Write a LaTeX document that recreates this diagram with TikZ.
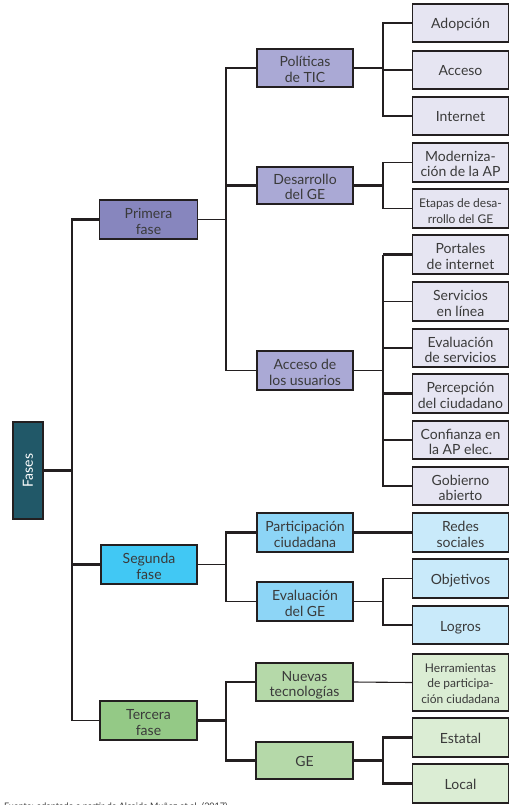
\documentclass[tikz,border=0pt]{standalone}
\usepackage{fontspec}
\setmainfont{Lato}
\definecolor{linec}{HTML}{231F20}
\definecolor{txtc}{HTML}{3A3A3A}
\definecolor{fasesc}{HTML}{215868}
\definecolor{primc}{HTML}{8786BE}
\definecolor{midpur}{HTML}{AAA9D5}
\definecolor{leafpur}{HTML}{E6E5F2}
\definecolor{segc}{HTML}{41C8F4}
\definecolor{midcyan}{HTML}{8DD5F6}
\definecolor{leafcyan}{HTML}{C9EAFA}
\definecolor{tercc}{HTML}{94C986}
\definecolor{midgreen}{HTML}{B5D9A9}
\definecolor{leafgreen}{HTML}{DBEDD4}
\begin{document}
\begin{tikzpicture}[x=1pt,y=-1pt,
  box/.style={draw=linec, line width=1.1pt, minimum width=96pt, minimum height=38pt,
    inner sep=1pt, align=center, text=txtc, font=\fontsize{14}{15.5}\selectfont,
    text height=29pt, text depth=0pt},
  oneline/.style={text height=12pt, text depth=0pt},
  threeline/.style={text height=41pt, text depth=0pt},
  small/.style={font=\fontsize{12}{15.5}\selectfont},
  thk/.style={draw=linec, line width=2.2pt},
  thn/.style={draw=linec, line width=1.1pt}]
\useasboundingbox (0,0) rectangle (515,805);
\coordinate (t0) at (72,0);
\coordinate (j1) at (226,0);
\coordinate (j2) at (383,0);
% root
\node[box, fill=fasesc, text=white, minimum width=30pt, minimum height=97pt, text height=, text depth=] (fases) at (28,470.5) {\rotatebox{90}{Fases}};
% phases
\node[box, fill=primc, minimum width=98pt, minimum height=39pt] (prim) at (148.5,219.5) {Primera\\fase};
\node[box, fill=segc, minimum height=39pt] (seg) at (149,564.5) {Segunda\\fase};
\node[box, fill=tercc, minimum width=97pt, minimum height=39pt] (terc) at (148.5,720.5) {Tercera\\fase};
% middle
\node[box, fill=midpur] (pol) at (305,68) {Políticas\\de TIC};
\node[box, fill=midpur, minimum height=37pt] (des) at (305,185.5) {Desarrollo\\del GE};
\node[box, fill=midpur, minimum height=39pt] (acc) at (305,370.5) {Acceso de\\los usuarios};
\node[box, fill=midcyan, minimum height=39pt] (par) at (305,532.5) {Participación\\ciudadana};
\node[box, fill=midcyan, minimum height=39pt] (eva) at (305,601.5) {Evaluación\\del GE};
\node[box, fill=midgreen, minimum width=97pt] (nue) at (304.5,682) {Nuevas\\tecnologías};
\node[box, fill=midgreen, minimum width=97pt, minimum height=37pt, oneline] (ge) at (304.5,760.5) {GE};
% leaves
\begin{scope}[every node/.append style={minimum width=97pt}]
\node[box, fill=leafpur, oneline] (ado) at (460.5,23) {Adopción};
\node[box, fill=leafpur, oneline] (acs) at (460.5,70) {Acceso};
\node[box, fill=leafpur, oneline] (int) at (460.5,116) {Internet};
\node[box, fill=leafpur, minimum height=39pt] (mod) at (460.5,162.5) {Moderniza-\\ción de la AP};
\node[box, fill=leafpur, minimum height=39pt, small] (eta) at (460.5,208.5) {Etapas de desa-\\rrollo del GE};
\node[box, fill=leafpur, minimum height=39pt] (por) at (460.5,254.5) {Portales\\de internet};
\node[box, fill=leafpur, minimum height=39pt] (ser) at (460.5,301.5) {Servicios\\en línea};
\node[box, fill=leafpur] (evs) at (460.5,348) {Evaluación\\de servicios};
\node[box, fill=leafpur, minimum height=39pt] (per) at (460.5,393.5) {Percepción\\del ciudadano};
\node[box, fill=leafpur] (con) at (460.5,440) {Confianza en\\la AP elec.};
\node[box, fill=leafpur] (gob) at (460.5,486) {Gobierno\\abierto};
\node[box, fill=leafcyan, minimum height=39pt] (red) at (460.5,532.5) {Redes\\sociales};
\node[box, fill=leafcyan, minimum height=39pt, oneline] (obj) at (460.5,578.5) {Objetivos};
\node[box, fill=leafcyan, oneline] (log) at (460.5,625) {Logros};
\node[box, fill=leafgreen, minimum height=57pt, small, threeline] (her) at (460.5,682.5) {Herramientas\\de participa-\\ción ciudadana};
\node[box, fill=leafgreen, minimum height=39pt, oneline] (est) at (460.5,737.5) {Estatal};
\node[box, fill=leafgreen, minimum height=39pt, oneline] (loc) at (460.5,783.5) {Local};
\end{scope}
% caption (cut by the page edge, as in the reference)
\node[anchor=base west, inner sep=0pt, text=txtc, font=\fontsize{9}{10}\selectfont] (cap) at (4,809) {Fuente: adaptado a partir de Alcaide Muñoz et al. (2017)};
% connectors: root and trunk
\draw[thk] (fases.east) -- (fases.east -| t0);
\draw[thk] (prim.west) -- (prim.west -| t0) -- (terc.west -| t0);
\draw[thk] (seg.west -| t0) -- (seg.west);
\draw[thn] (terc.west -| t0) -- (terc.west);
% primera fase
\draw[thn] (prim.east) -- (prim.east -| j1);
\draw[thn] (pol.west) -- (pol.west -| j1) -- (acc.west -| j1) -- (acc.west);
\draw[thk] (des.west -| j1) -- (des.west);
% politicas
\draw[thn] (pol.east) -- (pol.east -| j2);
\draw[thk] (ado.west) -- (ado.west -| j2) -- (int.west -| j2) -- (int.west);
\draw[thn] (acs.west -| j2) -- (acs.west);
% desarrollo
\draw[thk] (des.east) -- (des.east -| j2);
\draw[thn] (mod.west) -- (mod.west -| j2) -- (eta.west -| j2) -- (eta.west);
% acceso de los usuarios
\draw[thn] (acc.east) -- (acc.east -| j2);
\draw[thn] (por.west -| j2) -- (gob.west -| j2) -- (gob.west);
\draw[thk] (por.west -| j2) -- (por.west);
\draw[thn] (ser.west -| j2) -- (ser.west);
\draw[thk] (evs.west -| j2) -- (evs.west);
\draw[thk] (per.west -| j2) -- (per.west);
\draw[thk] (con.west -| j2) -- (con.west);
% segunda fase
\draw[thn] (seg.east) -- (seg.east -| j1);
\draw[thk] (par.west) -- (par.west -| j1) -- (eva.west -| j1);
\draw[thn] (eva.west -| j1) -- (eva.west);
\draw[thk] (par.east) -- (red.west);
\draw[thn] (eva.east) -- (eva.east -| j2);
\draw[thn] (obj.west) -- (obj.west -| j2) -- (log.west -| j2) -- (log.west);
% tercera fase
\draw[thk] (terc.east) -- (terc.east -| j1);
\draw[thk] (nue.west) -- (nue.west -| j1) -- (ge.west -| j1) -- (ge.west);
\draw[thn] (nue.east) -- (her.west);
\draw[thk] (ge.east) -- (ge.east -| j2);
\draw[thk] (est.west) -- (est.west -| j2) -- (loc.west -| j2) -- (loc.west);
\end{tikzpicture}
\end{document}
